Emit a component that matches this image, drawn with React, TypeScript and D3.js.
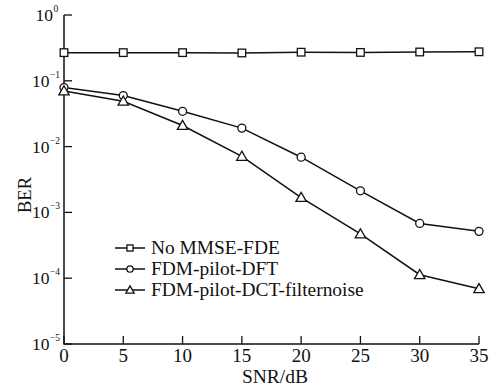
import React from "react";
import * as d3 from "d3";

const snr = [0, 5, 10, 15, 20, 25, 30, 35];
const noMmse = [0.268, 0.268, 0.268, 0.265, 0.272, 0.27, 0.274, 0.276];
const dft = [0.079, 0.0597, 0.0344, 0.0191, 0.0069, 0.00213, 0.00068, 0.000515];
const dct = [0.07, 0.049, 0.0209, 0.0071, 0.00168, 0.00047, 0.000113, 0.000069];
const xTicks = [0, 5, 10, 15, 20, 25, 30, 35];
const yExps = [0, -1, -2, -3, -4, -5];
const seriesNames = ["No MMSE-FDE", "FDM-pilot-DFT", "FDM-pilot-DCT-filternoise"];
const seriesMarks = ["square", "circle", "triangle"];

const W = 499, H = 387;
const m = { left: 64, top: 15, right: 479, bottom: 344 };
const font = "'Liberation Serif', 'Times New Roman', serif";

function Marker({ kind, x, y, s = 1 }: { kind: string; x: number; y: number; s?: number }) {
  const st = { fill: "white", stroke: "#111", strokeWidth: 1.3 };
  if (kind === "square") return <rect x={x - 3.8 * s} y={y - 3.8 * s} width={7.6 * s} height={7.6 * s} {...st} />;
  if (kind === "circle") return <circle cx={x} cy={y} r={4 * s} {...st} />;
  const h = 5.2 * s;
  return <path d={`M${x},${y - h}L${x + h},${y + h * 0.75}L${x - h},${y + h * 0.75}Z`} {...st} />;
}

export default function App() {
  const x = d3.scaleLinear().domain([0, 35]).range([m.left, m.right]);
  const y = d3.scaleLog().domain([1e-5, 1]).range([m.bottom, m.top]);
  const line = d3.line<number>().x((d, i) => x(snr[i])).y(d => y(d));
  const all = [noMmse, dft, dct];

  return (
    <svg width={W} height={H} style={{ position: "absolute", left: 0, top: 0, background: "#fff" }} fontFamily={font}>
      {/* axes */}
      <path d={`M${m.left},${m.top}V${m.bottom}H${m.right}`} fill="none" stroke="#111" strokeWidth={1.5} />
      {xTicks.map(t => (
        <g key={t}>
          <line x1={x(t)} x2={x(t)} y1={m.bottom} y2={m.bottom - 8} stroke="#111" strokeWidth={1.3} />
          <text x={x(t)} y={362} textAnchor="middle" fontSize={19} fill="#111">{t}</text>
        </g>
      ))}
      {yExps.map(e => {
        const yy = y(Math.pow(10, e));
        const supW = e === 0 ? 5 : 8.5;
        return (
          <g key={e}>
            <line x1={m.left} x2={m.left + 8} y1={yy} y2={yy} stroke="#111" strokeWidth={1.3} />
            <text x={58 - supW} y={yy + 6} textAnchor="end" fontSize={17.5} fill="#111">10</text>
            <text x={58 - supW + 0.5} y={yy - 3} textAnchor="start" fontSize={9.5} fill="#111">
              {e === 0 ? "0" : "\u2212" + -e}
            </text>
          </g>
        );
      })}
      <text x={275} y={383} textAnchor="middle" fontSize={19.5} fill="#111">SNR/dB</text>
      <text transform="translate(31,195) rotate(-90)" textAnchor="middle" fontSize={18.5} fill="#111">BER</text>

      {/* series */}
      {all.map((vals, k) => (
        <g key={k}>
          <path d={line(vals) || ""} fill="none" stroke="#111" strokeWidth={1.5} />
          {vals.map((v, i) => <Marker key={i} kind={seriesMarks[k]} x={x(snr[i])} y={y(v)} />)}
        </g>
      ))}

      {/* legend */}
      {seriesNames.map((n, k) => {
        const ly = 248 + k * 21;
        return (
          <g key={n}>
            <line x1={115} x2={145} y1={ly} y2={ly} stroke="#111" strokeWidth={1.5} />
            <Marker kind={seriesMarks[k]} x={130} y={ly} s={0.8} />
            <text x={151} y={ly + 6} fontSize={19.4} fill="#111">{n}</text>
          </g>
        );
      })}
    </svg>
  );
}
